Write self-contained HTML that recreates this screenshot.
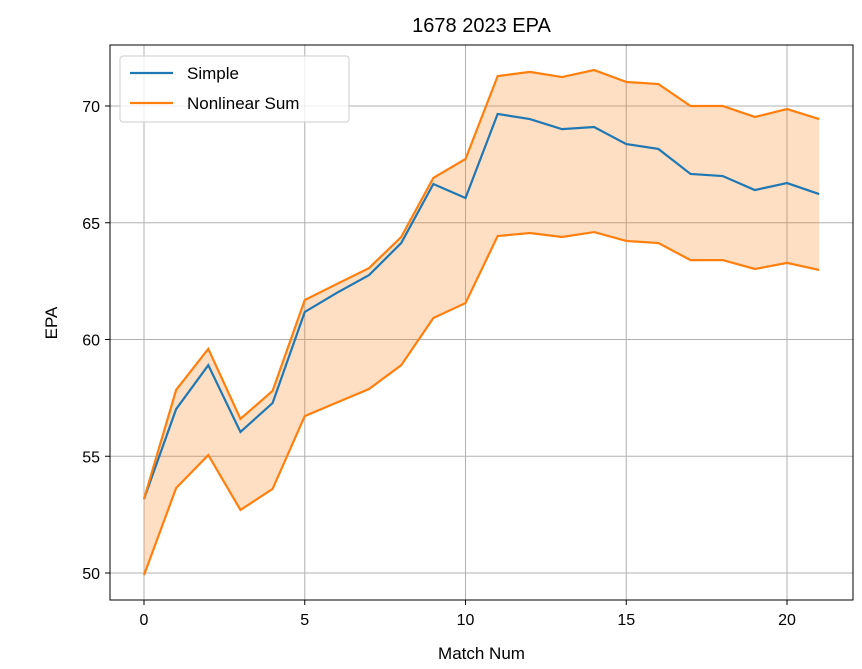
<!DOCTYPE html>
<html><head><meta charset="utf-8"><style>
html,body{margin:0;padding:0;background:#fff;}
svg{display:block;font-family:"Liberation Sans","DejaVu Sans",sans-serif;}
</style></head><body>
<svg id="chart" width="862" height="669" viewBox="0 0 862 669" xmlns="http://www.w3.org/2000/svg">
<rect width="862" height="669" fill="#fff"/>
<g id="grid"></g>
<g id="marks"></g>
<rect x="110" y="45" width="743" height="555" fill="none" stroke="#000" stroke-width="1"/>
<g id="ticks"></g>
<text x="481.5" y="32" text-anchor="middle" font-size="20">1678 2023 EPA</text>
<text x="481.5" y="659" text-anchor="middle" font-size="17">Match Num</text>
<text transform="translate(57,323) rotate(-90)" text-anchor="middle" font-size="17">EPA</text>
<g>
<rect x="120" y="56" width="229" height="66" rx="3" fill="#fff" fill-opacity="0.8" stroke="#ccc"/>
<line x1="130" y1="73" x2="173" y2="73" stroke="#1f77b4" stroke-width="2.2"/>
<text x="187" y="79" font-size="17">Simple</text>
<line x1="130" y1="103" x2="173" y2="103" stroke="#ff7f0e" stroke-width="2.2"/>
<text x="187" y="109" font-size="17">Nonlinear Sum</text>
</g>
</svg>
<script>
const matches = [0,1,2,3,4,5,6,7,8,9,10,11,12,13,14,15,16,17,18,19,20,21];
const simple = [53.17,57.02,58.9,56.04,57.28,61.18,62.0,62.76,64.13,66.66,66.06,69.66,69.44,69.01,69.1,68.37,68.16,67.09,67.0,66.4,66.7,66.23];
const upper = [53.17,57.84,59.6,56.6,57.8,61.69,62.38,63.06,64.39,66.92,67.73,71.28,71.46,71.24,71.54,71.03,70.94,70.0,70.0,69.53,69.87,69.44];
const lower = [49.91,53.64,55.05,52.7,53.6,56.72,57.3,57.88,58.9,60.92,61.56,64.43,64.56,64.39,64.6,64.22,64.13,63.4,63.4,63.02,63.28,62.98];
const xTicks = [0,5,10,15,20];
const yTicks = [50,55,60,65,70];

const NS = "http://www.w3.org/2000/svg";
const X = v => 144 + v * (787 - 144) / 20;
const Y = v => 573 - (v - 50) * (573 - 106) / 20;
function mk(tag, attrs, parent){const e=document.createElementNS(NS,tag);for(const k in attrs)e.setAttribute(k,attrs[k]);parent.appendChild(e);return e;}
const grid=document.getElementById('grid'), marks=document.getElementById('marks'), ticks=document.getElementById('ticks');

xTicks.forEach(t=>{
  const g=mk('line',{x1:X(t),x2:X(t),y1:45,y2:600,stroke:'#b0b0b0','stroke-width':1},grid);
  
  
  mk('line',{x1:X(t),x2:X(t),y1:600,y2:605,stroke:'#000'},ticks);
  const tx=mk('text',{x:X(t),y:625,'text-anchor':'middle','font-size':16},ticks);
  tx.textContent=t;
  
  
});
yTicks.forEach(t=>{
  const g=mk('line',{x1:110,x2:853,y1:Y(t),y2:Y(t),stroke:'#b0b0b0','stroke-width':1},grid);
  
  
  mk('line',{x1:105,x2:110,y1:Y(t),y2:Y(t),stroke:'#000'},ticks);
  const tx=mk('text',{x:100,y:Y(t)+6,'text-anchor':'end','font-size':16},ticks);
  tx.textContent=t;
  
  
});

const up = matches.map((m,i)=>X(m)+','+Y(upper[i]));
const lo = matches.map((m,i)=>X(m)+','+Y(lower[i]));
const band=mk('polygon',{points:up.concat(lo.slice().reverse()).join(' '),fill:'#ff7f0e','fill-opacity':0.25},marks);


const sl=mk('polyline',{points:matches.map((m,i)=>X(m)+','+Y(simple[i])).join(' '),fill:'none',stroke:'#1f77b4','stroke-width':2.2},marks);


const ul=mk('polyline',{points:up.join(' '),fill:'none',stroke:'#ff7f0e','stroke-width':2.2},marks);


const ll=mk('polyline',{points:lo.join(' '),fill:'none',stroke:'#ff7f0e','stroke-width':2.2},marks);


</script>
</body></html>
